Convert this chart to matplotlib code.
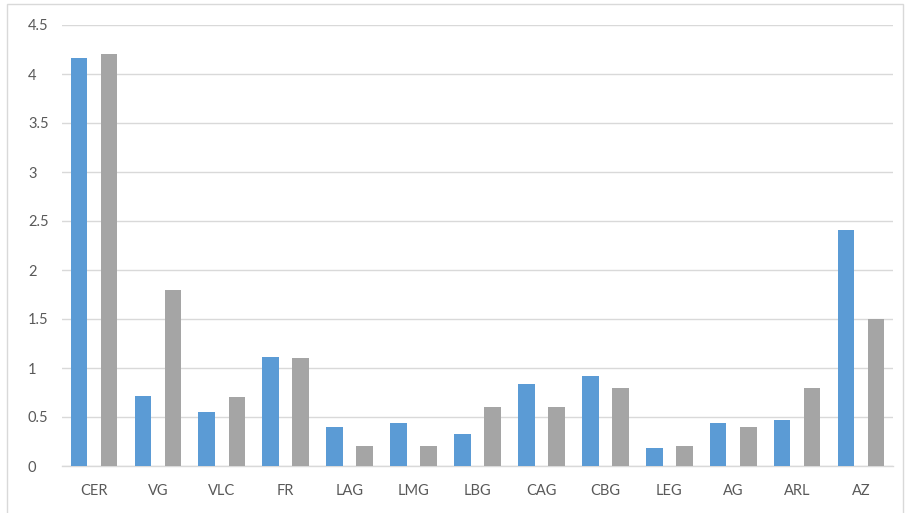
import matplotlib
matplotlib.use("Agg")
import matplotlib.pyplot as plt
from matplotlib.patches import Rectangle
import numpy as np

categories = ["CER", "VG", "VLC", "FR", "LAG", "LMG", "LBG", "CAG", "CBG", "LEG", "AG", "ARL", "AZ"]
series_a = [4.16, 0.71, 0.55, 1.11, 0.40, 0.44, 0.33, 0.84, 0.92, 0.18, 0.44, 0.47, 2.41]
series_b = [4.20, 1.80, 0.70, 1.10, 0.20, 0.20, 0.60, 0.60, 0.80, 0.20, 0.40, 0.80, 1.50]
yticks = [0, 0.5, 1, 1.5, 2, 2.5, 3, 3.5, 4, 4.5]
ytick_labels = ["0", "0.5", "1", "1.5", "2", "2.5", "3", "3.5", "4", "4.5"]

W, H = 905, 513
fig = plt.figure(figsize=(W / 100, H / 100), dpi=100)
plt.rcParams["font.family"] = ["Lato", "DejaVu Sans"]

# outer chart frame
fig.patches.append(Rectangle((7 / W, -0.05), (903 - 7) / W, 1.05 - 4 / H,
                             transform=fig.transFigure, fill=False,
                             edgecolor="#D9D9D9", linewidth=1.0))

ax = fig.add_axes([62 / W, 47 / H, (893 - 62) / W, (466 - 25) / H])
x = np.arange(len(categories))
bw = 0.26
off = 0.235
ax.bar(x - off, series_a, width=bw, color="#5B9BD5", zorder=3)
ax.bar(x + off, series_b, width=bw, color="#A5A5A5", zorder=3)

ax.set_xlim(-0.5, len(categories) - 0.5)
ax.set_ylim(0, 4.5)
ax.set_yticks(yticks)
ax.set_yticklabels(ytick_labels)
ax.set_xticks(x)
ax.set_xticklabels(categories)
ax.yaxis.grid(True, color="#D9D9D9", linewidth=1.0, zorder=0)
ax.set_axisbelow(True)
for s in ["top", "right", "left"]:
    ax.spines[s].set_visible(False)
ax.spines["bottom"].set_color("#D9D9D9")
ax.spines["bottom"].set_linewidth(1.0)
ax.tick_params(axis="both", length=0, labelsize=10.5, colors="#595959")
ax.tick_params(axis="y", pad=24.5)
ax.tick_params(axis="x", pad=13)
for lbl in ax.get_yticklabels():
    lbl.set_horizontalalignment("left")

fig.savefig("out.png", dpi=100)
